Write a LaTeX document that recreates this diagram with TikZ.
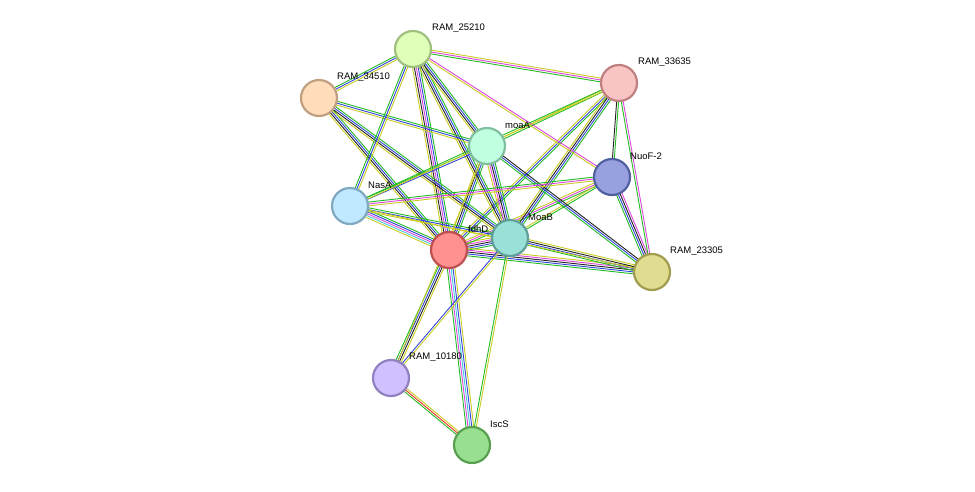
\documentclass[tikz,border=0pt]{standalone}
\usepackage{fontspec}
\setmainfont{Liberation Sans}
\usetikzlibrary{calc}
\definecolor{eg}{HTML}{22BB22}
\definecolor{eb}{HTML}{3344DD}
\definecolor{ek}{HTML}{222222}
\definecolor{em}{HTML}{DD44DD}
\definecolor{ec}{HTML}{44CCDD}
\definecolor{ey}{HTML}{C8CC22}
\definecolor{er}{HTML}{EE3322}
\definecolor{f1}{HTML}{E0FFB8}\definecolor{d1}{HTML}{A0C080}
\definecolor{f2}{HTML}{FFDDBB}\definecolor{d2}{HTML}{C0A080}
\definecolor{f3}{HTML}{F8C4C4}\definecolor{d3}{HTML}{C08080}
\definecolor{f4}{HTML}{C0FFE0}\definecolor{d4}{HTML}{80C0A0}
\definecolor{f5}{HTML}{98A0E0}\definecolor{d5}{HTML}{5060A0}
\definecolor{f6}{HTML}{C0E8FF}\definecolor{d6}{HTML}{80A8C0}
\definecolor{f7}{HTML}{FF9090}\definecolor{d7}{HTML}{C05050}
\definecolor{f8}{HTML}{98E0D8}\definecolor{d8}{HTML}{60A098}
\definecolor{f9}{HTML}{E0DC90}\definecolor{d9}{HTML}{A09C50}
\definecolor{f10}{HTML}{D0C0FF}\definecolor{d10}{HTML}{9080C0}
\definecolor{f11}{HTML}{98E090}\definecolor{d11}{HTML}{58A050}
\newcommand\edg[4]{\foreach \c [count=\i] in {#4}{\pgfmathsetmacro\d{(\i-1-(#3-1)/2)*1.9}
 \draw[\c,line width=0.9pt] ($(#1)!\d pt!90:(#2)$) -- ($(#2)!\d pt!-90:(#1)$);}}
\tikzset{prot/.style={circle,minimum size=36pt,line width=2.2pt,inner sep=0pt,fill=f#1,draw=d#1},
 lab/.style={anchor=west,font=\fontsize{9.5}{11}\selectfont,inner sep=1pt}}
\begin{document}
\begin{tikzpicture}[x=1pt,y=-1pt]
\useasboundingbox (0,0) rectangle (975,491);
\coordinate (a) at (413,49);
\coordinate (b) at (319,98);
\coordinate (c) at (619,83);
\coordinate (d) at (487,146);
\coordinate (e) at (612,177);
\coordinate (f) at (350,206);
\coordinate (g) at (449,250);
\coordinate (h) at (510,238);
\coordinate (i) at (652,272);
\coordinate (j) at (391,378);
\coordinate (k) at (472,445);
\edg{g}{a}{5}{eg,eb,em,ek,ey}
\edg{g}{b}{4}{eg,eb,ek,ey}
\edg{g}{d}{4}{eg,eb,ek,ey}
\edg{g}{f}{5}{eg,eb,em,ec,ey}
\edg{g}{h}{5}{eg,eb,ek,em,ey}
\edg{g}{e}{3}{eg,em,ey}
\edg{g}{c}{3}{eg,eb,ey}
\edg{g}{i}{5}{eg,eb,ek,em,ey}
\edg{g}{j}{4}{eg,eb,ek,ey}
\edg{g}{k}{5}{eg,em,ec,eb,ey}
\edg{h}{a}{4}{eg,eb,ek,ey}
\edg{h}{b}{4}{eg,eb,ek,ey}
\edg{h}{d}{5}{eg,eb,ek,em,ey}
\edg{h}{f}{3}{eg,eb,ey}
\edg{h}{e}{2}{eg,ey}
\edg{h}{c}{4}{eg,eb,ek,ey}
\edg{h}{i}{4}{eg,eb,ek,ey}
\edg{h}{j}{2}{eb,ey}
\edg{h}{k}{2}{eg,ey}
\edg{d}{a}{4}{eg,eb,ek,ey}
\edg{d}{b}{3}{eg,eb,ey}
\edg{d}{c}{2}{eg,ey}
\edg{d}{f}{2}{eg,eb}
\edg{d}{i}{3}{eg,eb,ek}
\edg{d}{j}{1}{ey}
\edg{e}{c}{2}{eg,ek}
\edg{e}{i}{4}{eg,eb,ek,em}
\edg{e}{f}{3}{eg,em,ey}
\edg{e}{a}{2}{em,ey}
\edg{a}{b}{3}{eg,eb,ey}
\edg{a}{f}{3}{eg,eb,ey}
\edg{a}{c}{3}{eg,em,ey}
\edg{c}{f}{2}{eg,ey}
\edg{c}{i}{2}{eg,em}
\edg{f}{i}{1}{ey}
\edg{j}{k}{3}{eg,er,ey}
\node[prot=1] (n1) at (a) {};
\node[prot=2] (n2) at (b) {};
\node[prot=3] (n3) at (c) {};
\node[prot=4] (n4) at (d) {};
\node[prot=5] (n5) at (e) {};
\node[prot=6] (n6) at (f) {};
\node[prot=7] (n7) at (g) {};
\node[prot=8] (n8) at (h) {};
\node[prot=9] (n9) at (i) {};
\node[prot=10] (n10) at (j) {};
\node[prot=11] (n11) at (k) {};
\node[lab] (l1) at (431,28) {RAM\_25210};
\node[lab] (l2) at (336,77) {RAM\_34510};
\node[lab] (l3) at (637,62) {RAM\_33635};
\node[lab] (l4) at (504,125) {moaA};
\node[lab] (l5) at (629,156) {NuoF-2};
\node[lab] (l6) at (367,185) {NasA};
\node[lab] (l7) at (467,229) {fdhD};
\node[lab] (l8) at (527,217) {MoaB};
\node[lab] (l9) at (669,251) {RAM\_23305};
\node[lab] (l10) at (408,357) {RAM\_10180};
\node[lab] (l11) at (489,424) {IscS};
\end{tikzpicture}
\end{document}
